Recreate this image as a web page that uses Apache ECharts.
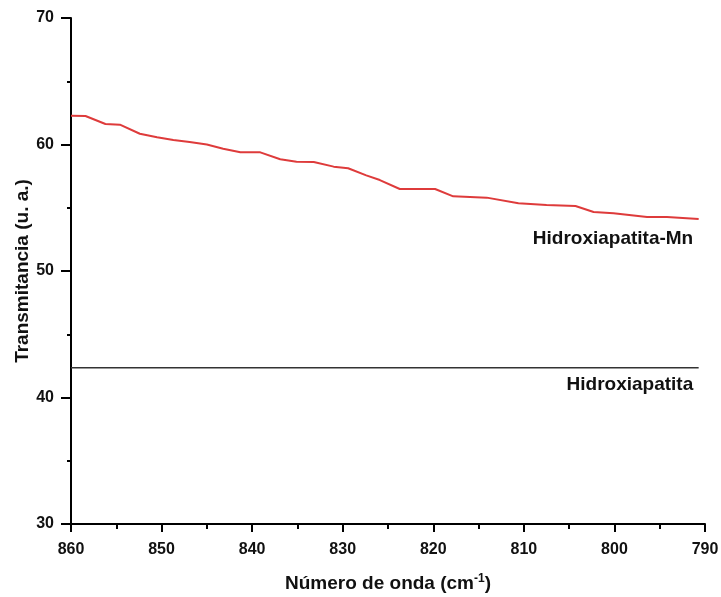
<!DOCTYPE html>
<html>
<head>
<meta charset="utf-8">
<script src="https://cdn.jsdelivr.net/npm/echarts@6/dist/echarts.min.js"></script>
<style>
  html, body { margin: 0; padding: 0; background: #fff; }
  #chart { width: 721px; height: 597px; }
</style>
</head>
<body>
<div id="chart"></div>
<script>
// Wavenumber (cm-1) and transmittance of the Mn-doped sample
const mnWavenumber = [860, 858.4, 856.2, 854.6, 852.4, 850.5, 848.7, 846.9, 845.0, 843.2,
  841.3, 839.1, 836.9, 835.1, 833.2, 831.0, 829.4, 827.4, 825.9, 823.7, 819.8, 817.8,
  814.1, 810.6, 807.5, 804.3, 802.3, 800.1, 796.4, 794.2, 790.7];
const mnTransmittance = [62.28, 62.25, 61.62, 61.57, 60.85, 60.57, 60.36, 60.2, 60.0, 59.67,
  59.38, 59.38, 58.83, 58.64, 58.62, 58.25, 58.12, 57.56, 57.19, 56.48, 56.48, 55.9,
  55.8, 55.35, 55.22, 55.14, 54.66, 54.56, 54.27, 54.27, 54.11];

// Pure hydroxyapatite: flat trace
const haWavenumber = [860, 790.7];
const haTransmittance = [42.35, 42.35];

const xTicks = [860, 850, 840, 830, 820, 810, 800, 790];
const yTicks = [30, 40, 50, 60, 70];

const seriesNames = ['Hidroxiapatita-Mn', 'Hidroxiapatita'];

const pair = (xs, ys) => xs.map((x, i) => [x, ys[i]]);

const font = 'Liberation Sans, Arial, sans-serif';
const chart = echarts.init(document.getElementById('chart'));

chart.setOption({
  animation: false,
  backgroundColor: '#fff',
  grid: { left: 71, right: 16, top: 18, bottom: 73, outerBoundsMode: 'none', containLabel: false },
  xAxis: {
    type: 'value',
    inverse: true,
    min: xTicks[xTicks.length - 1],
    max: xTicks[0],
    interval: 10,
    name: 'Número de onda (cm{sup|-1})',
    nameLocation: 'middle',
    nameGap: 49,
    nameMoveOverlap: false,
    nameTextStyle: {
      fontFamily: font, fontSize: 19, fontWeight: 'bold', color: '#111',
      rich: { sup: { fontFamily: font, fontSize: 12, fontWeight: 'bold', color: '#111', verticalAlign: 'top', padding: [0, 0, 9, 0] } }
    },
    axisLine: { lineStyle: { color: '#000', width: 2 } },
    axisTick: { show: true, length: 8, lineStyle: { color: '#000', width: 2 } },
    minorTick: { show: true, splitNumber: 2, length: 5, lineStyle: { color: '#000', width: 2 } },
    splitLine: { show: false },
    axisLabel: { margin: 18, fontFamily: font, fontSize: 16, fontWeight: 'bold', color: '#111' }
  },
  yAxis: {
    type: 'value',
    min: yTicks[0],
    max: yTicks[yTicks.length - 1],
    interval: 10,
    name: 'Transmitancia (u. a.)',
    nameLocation: 'middle',
    nameGap: 39,
    nameMoveOverlap: false,
    nameTextStyle: { fontFamily: font, fontSize: 19, fontWeight: 'bold', color: '#111' },
    axisLine: { show: true, lineStyle: { color: '#000', width: 2 } },
    axisTick: { show: true, length: 10, lineStyle: { color: '#000', width: 2 } },
    minorTick: { show: true, splitNumber: 2, length: 4, lineStyle: { color: '#000', width: 2 } },
    splitLine: { show: false },
    axisLabel: { margin: 17, fontFamily: font, fontSize: 16, fontWeight: 'bold', color: '#111' }
  },
  series: [
    {
      name: seriesNames[0],
      type: 'line',
      data: pair(mnWavenumber, mnTransmittance),
      showSymbol: false,
      lineStyle: { color: '#de3b3b', width: 2 },
      itemStyle: { color: '#de3b3b' }
    },
    {
      name: seriesNames[1],
      type: 'line',
      data: pair(haWavenumber, haTransmittance),
      showSymbol: false,
      lineStyle: { color: '#333', width: 1.5 },
      itemStyle: { color: '#333' }
    }
  ]
});

// Series names written just below the right end of each trace
function placeLabels() {
  const items = [
    { text: seriesNames[0], x: 791.3, y: mnTransmittance[mnTransmittance.length - 1] - 1.6 },
    { text: seriesNames[1], x: 791.3, y: haTransmittance[haTransmittance.length - 1] - 1.35 }
  ];
  chart.setOption({
    graphic: items.map((it, i) => {
      const p = chart.convertToPixel({ gridIndex: 0 }, [it.x, it.y]);
      return {
        id: 'lbl' + i,
        type: 'text',
        x: p[0], y: p[1],
        style: {
          text: it.text, fontFamily: font, fontSize: 19, fontWeight: 'bold',
          fill: '#111', align: 'right', verticalAlign: 'middle'
        }
      };
    })
  });
}
placeLabels();
</script>
</body>
</html>
